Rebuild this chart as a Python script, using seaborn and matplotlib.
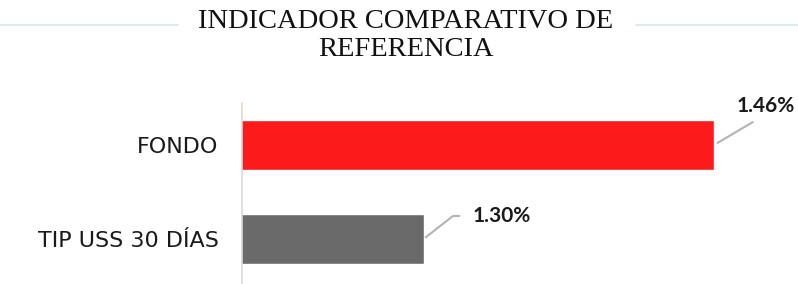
import matplotlib
matplotlib.use("Agg")
import matplotlib.pyplot as plt
from matplotlib.lines import Line2D
import seaborn as sns
import pandas as pd

categories = ["FONDO", "TIP USS 30 DÍAS"]
values = [1.46, 1.30]
value_labels = ["1.46%", "1.30%"]
title = "INDICADOR COMPARATIVO DE\nREFERENCIA"

colors = ["#fd1a1a", "#6a6a6a"]

sns.set_theme(style="white")
plt.rcParams["font.family"] = ["DejaVu Sans"]

W, H = 798, 284
fig = plt.figure(figsize=(W / 100, H / 100), dpi=100, facecolor="white")

x0 = 1.2
px_per_unit = 472 / 0.26
ax_left, ax_top, ax_bottom = 242, 103, 284
ax = fig.add_axes([ax_left / W, 0, (W - ax_left) / W, (ax_bottom - ax_top) / H])

df = pd.DataFrame({"cat": categories, "val": values})
sns.barplot(data=df, x="val", y="cat", hue="cat", palette=colors, legend=False,
            orient="h", width=0.53, ax=ax, saturation=1)

ax.set_xlim(x0, x0 + (W - ax_left) / px_per_unit)
ax.set_ylim(1.479, -0.447)
ax.set_xlabel("")
ax.set_ylabel("")
ax.xaxis.set_visible(False)
for s in ["top", "right", "bottom"]:
    ax.spines[s].set_visible(False)
ax.spines["left"].set_color("#e2d8d2")
ax.spines["left"].set_linewidth(1.2)
ax.tick_params(axis="y", length=0, pad=17)
for lbl in ax.get_yticklabels():
    lbl.set_fontsize(16)
    lbl.set_color("#1a1a1a")

# value labels with leader lines
ax.annotate(value_labels[0], xy=(values[0], 0), xytext=(52, 39),
            textcoords="offset pixels", ha="center", va="center",
            fontsize=15, fontweight="bold", family="Lato", color="#1a1a1a",
            arrowprops=dict(arrowstyle="-", color="#b3b3b3", lw=1.5,
                            relpos=(0.45, 0.0), shrinkA=4, shrinkB=3))
ax.annotate(value_labels[1], xy=(values[1], 1), xytext=(78, 23),
            textcoords="offset pixels", ha="center", va="center",
            fontsize=15, fontweight="bold", family="Lato", color="#1a1a1a",
            arrowprops=dict(arrowstyle="-", color="#b3b3b3", lw=1.5,
                            relpos=(0.0, 0.5), shrinkA=7, shrinkB=2,
                            connectionstyle="angle,angleA=0,angleB=38,rad=0"))

# faint rule behind the title
fig.add_artist(Line2D([0, 178 / W], [1 - 25 / H] * 2, color="#d4e5ee", lw=1.2))
fig.add_artist(Line2D([636 / W, 1], [1 - 25 / H] * 2, color="#d4e5ee", lw=1.2))

fig.text(406 / W, 1 - 9 / H, title, ha="center", va="top", fontsize=20.5,
         family="Liberation Serif", color="#111111", linespacing=1.15)

fig.savefig("out.png", dpi=100, facecolor="white")
